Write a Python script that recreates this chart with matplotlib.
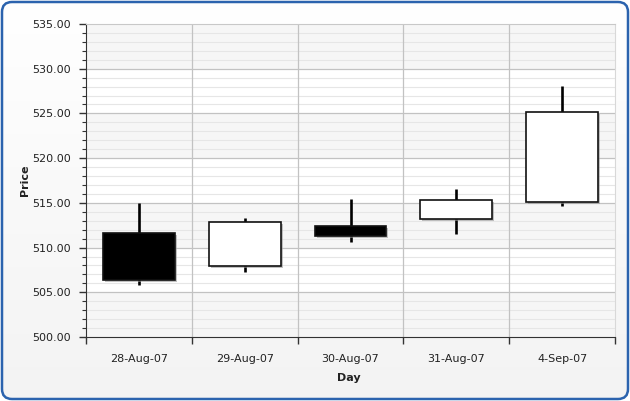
import matplotlib
matplotlib.use("Agg")
import matplotlib.pyplot as plt
import numpy as np
from matplotlib.patches import Rectangle, FancyBboxPatch
from matplotlib.transforms import ScaledTranslation

days   = ["28-Aug-07", "29-Aug-07", "30-Aug-07", "31-Aug-07", "4-Sep-07"]
opens  = [511.6, 507.9, 512.4, 513.2, 515.1]
closes = [506.4, 512.9, 511.3, 515.3, 525.2]
highs  = [515.0, 513.3, 515.4, 516.5, 528.1]
lows   = [505.8, 507.3, 510.6, 511.5, 514.7]

W, H = 630, 401
fig = plt.figure(figsize=(W / 100, H / 100), dpi=100)
fig.patch.set_facecolor("white")

# background panel with rounded blue border
bg = fig.add_axes([0, 0, 1, 1])
bg.set_xlim(0, W); bg.set_ylim(0, H); bg.axis("off")
grad = np.linspace(0, 1, 256).reshape(-1, 1)
im = bg.imshow(grad, extent=[0, W, 0, H], aspect="auto", origin="upper",
               cmap=matplotlib.colors.LinearSegmentedColormap.from_list(
                   "bgc", ["#ffffff", "#f3f3f3"]), zorder=0)
panel = FancyBboxPatch((2, 2), W - 4, H - 4, boxstyle="round,pad=0,rounding_size=10",
                       facecolor="none", edgecolor="#2b63ae", linewidth=1.8, zorder=2)
bg.add_patch(panel)
im.set_clip_path(panel)

ax = fig.add_axes([86 / W, (H - 337) / H, (615 - 86) / W, (337 - 24) / H])
ax.set_facecolor("none")
ax.set_xlim(-0.5, len(days) - 0.5)
ax.set_ylim(500, 535)

# alternating bands
for i, y0 in enumerate(range(500, 535, 5)):
    ax.axhspan(y0, y0 + 5, color="#f6f6f6" if i % 2 == 0 else "#ffffff", zorder=0, lw=0)

for y in range(501, 535):
    if y % 5:
        ax.axhline(y, color="#e6e6e6", lw=0.8, zorder=0.5)
for y in range(505, 535, 5):
    ax.axhline(y, color="#c2c2c2", lw=0.9, zorder=0.6)
for x in np.arange(0.5, len(days) - 0.5, 1):
    ax.axvline(x, color="#c2c2c2", lw=0.9, zorder=0.6)

shadow = ax.transData + ScaledTranslation(2 / 100, -2 / 100, fig.dpi_scale_trans)
bw = 0.68
for i in range(len(days)):
    ax.plot([i, i], [lows[i], highs[i]], color="black", lw=1.9, zorder=2,
            solid_capstyle="butt")
    lo, hi = min(opens[i], closes[i]), max(opens[i], closes[i])
    ax.add_patch(Rectangle((i - bw / 2, lo), bw, hi - lo, transform=shadow,
                           facecolor="#999999", edgecolor="none", alpha=0.6, zorder=2.5))
    fill = "black" if closes[i] < opens[i] else "white"
    ax.add_patch(Rectangle((i - bw / 2, lo), bw, hi - lo, facecolor=fill,
                           edgecolor="#111111", lw=1.2, zorder=3))

ax.set_yticks(np.arange(500, 536, 5))
ax.set_yticks(np.arange(500, 536, 1), minor=True)
ax.set_yticklabels([f"{v:.2f}" for v in np.arange(500, 536, 5)])
ax.set_xticks(np.arange(-0.5, len(days), 1))
ax.set_xticklabels([])
ax.set_xticks(np.arange(len(days)), minor=True)
ax.set_xticklabels(days, minor=True)

ax.tick_params(axis="y", which="major", length=5, width=1, color="#333333",
               labelsize=8, labelcolor="#222222", pad=6)
ax.tick_params(axis="y", which="minor", length=3, width=0.8, color="#333333")
ax.tick_params(axis="x", which="major", length=5, width=1, color="#333333")
ax.tick_params(axis="x", which="minor", length=0, labelsize=8,
               labelcolor="#222222", pad=12)

ax.spines["left"].set_color("#333333")
ax.spines["bottom"].set_color("#333333")
ax.spines["top"].set_color("#c8c8c8")
ax.spines["right"].set_color("#d8d8d8")

fig.text(25 / W, 1 - 180 / H, "Price", rotation=90, ha="center", va="center",
         fontsize=8, fontweight="bold", color="#222222")
fig.text(349 / W, 1 - 378 / H, "Day", ha="center", va="center",
         fontsize=8, fontweight="bold", color="#222222")

fig.savefig("out.png", dpi=100)
